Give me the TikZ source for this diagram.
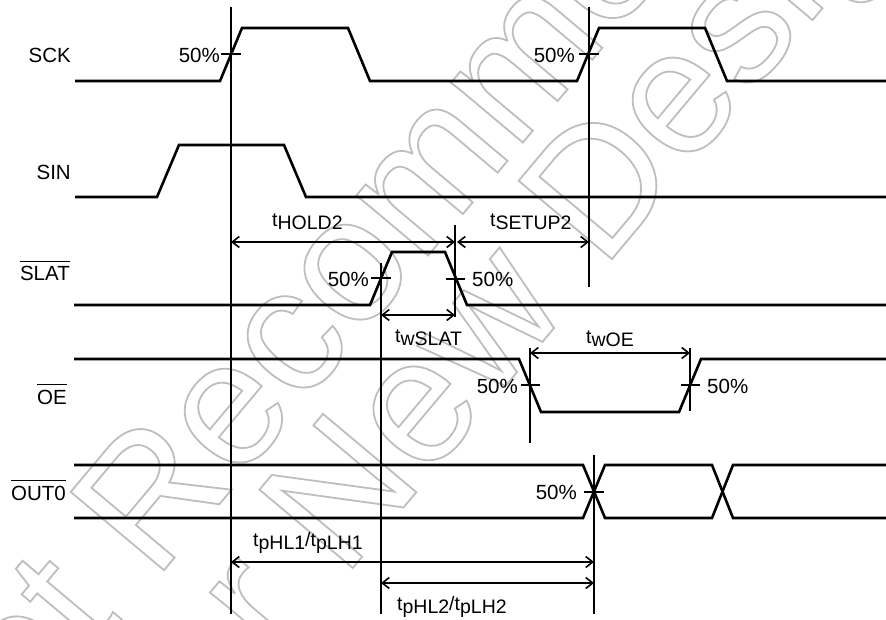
\documentclass[tikz,border=0pt]{standalone}
\usepackage{fontspec}
\setmainfont{Liberation Sans}
\usetikzlibrary{arrows.meta}
\newcommand\ovl[1]{\vbox{\hrule height 1.3pt\kern 4.5pt\hbox{#1}}}
\newcommand\tsub[1]{t\raisebox{-3pt}{#1}}
\newcommand\outlinetext[1]{\special{pdf:literal direct 1 Tr 1.8 w}#1\special{pdf:literal direct 0 Tr}}
\definecolor{wm}{RGB}{190,190,190}
\begin{document}
\begin{tikzpicture}[x=1pt,y=-1pt,
  sig/.style={line width=2.6pt, line join=miter},
  refl/.style={line width=1.2pt},
  dim/.style={line width=2pt, {Straight Barb[length=7pt,width=11pt,line width=1.6pt]}-{Straight Barb[length=7pt,width=11pt,line width=1.6pt]}},
  lbl/.style={inner sep=0pt, font=\fontsize{20.5}{24}\selectfont},
  tl/.style={inner sep=0pt, font=\fontsize{19.5}{22}\selectfont},
  wmark/.style={inner sep=0pt, text=wm, rotate=50, font=\fontsize{177}{177}\selectfont}]
\useasboundingbox (0,0) rectangle (886,620);
\begin{scope}
\clip (0,0) rectangle (886,620);
% watermark
\node[wmark, anchor=base west] (wm1) at (-54,830) {\outlinetext{Not Recommended}};
\node[wmark, anchor=base west] (wm2) at (179,775) {\outlinetext{for New Design}};
\end{scope}
% signal names
\node[lbl, anchor=base east] (nSCK) at (71,63) {SCK};
\node[lbl, anchor=base east] (nSIN) at (71,180) {SIN};
\node[lbl, anchor=base east] (nSLAT) at (70,281) {\ovl{SLAT}};
\node[lbl, anchor=base east] (nOE) at (67,404) {\ovl{OE}};
\node[lbl, anchor=base east] (nOUT) at (66,500) {\ovl{OUT0}};
% waveforms
\draw[sig] (75,81) -- (220,81) -- (242,28) -- (348,28) -- (370,81) -- (577,81) -- (599,28) -- (705,28) -- (727,81) -- (886,81);
\draw[sig] (75,197) -- (157,197) -- (179,145) -- (284,145) -- (306,197) -- (886,197);
\draw[sig] (74,305) -- (370,305) -- (392,252) -- (445,252) -- (467,305) -- (886,305);
\draw[sig] (74,359) -- (519,359) -- (541,412) -- (679,412) -- (701,359) -- (886,359);
\draw[sig] (74,465) -- (583,465) -- (605,518) -- (712,518) -- (733,465) -- (886,465);
\draw[sig] (74,518) -- (583,518) -- (605,465) -- (712,465) -- (733,518) -- (886,518);
% reference lines
\coordinate (v1t) at (231,7);   \coordinate (v1b) at (231,614);
\coordinate (v2t) at (589,7);   \coordinate (v2b) at (589,287);
\coordinate (v3t) at (381,263); \coordinate (v3b) at (381,614);
\coordinate (v4t) at (455,225); \coordinate (v4b) at (455,317);
\coordinate (v5t) at (530,348); \coordinate (v5b) at (530,443);
\coordinate (v6t) at (690,348); \coordinate (v6b) at (690,411);
\coordinate (v7t) at (594,455); \coordinate (v7b) at (594,614);
\draw[refl] (v1t) -- (v1b);
\draw[refl] (v2t) -- (v2b);
\draw[refl] (v3t) -- (v3b);
\draw[refl] (v4t) -- (v4b);
\draw[refl] (v5t) -- (v5b);
\draw[refl] (v6t) -- (v6b);
\draw[refl] (v7t) -- (v7b);
% 50% ticks
\draw[refl] (221,54) -- (241,54);
\draw[refl] (579,54) -- (599,54);
\draw[refl] (371,278) -- (391,278);
\draw[refl] (446,279) -- (465,279);
\draw[refl] (521,385) -- (540,385);
\draw[refl] (681,385) -- (700,385);
\draw[refl] (584,492) -- (604,492);
% 50% labels
\node[lbl, anchor=base east] (p1) at (220,63) {50\%};
\node[lbl, anchor=base east] (p2) at (575,63) {50\%};
\node[lbl, anchor=base east] (p3) at (369,287) {50\%};
\node[lbl, anchor=base west] (p4) at (472,287) {50\%};
\node[lbl, anchor=base east] (p5) at (518,393) {50\%};
\node[lbl, anchor=base west] (p6) at (707,393) {50\%};
\node[lbl, anchor=base east] (p7) at (577,499) {50\%};
% dimension arrows
\coordinate (aHa) at (231,242); \coordinate (aHb) at (455,242);
\coordinate (aSa) at (457,242); \coordinate (aSb) at (589,242);
\coordinate (aWa) at (381,315); \coordinate (aWb) at (455,315);
\coordinate (aOa) at (530,353); \coordinate (aOb) at (690,353);
\coordinate (aP1a) at (231,562); \coordinate (aP1b) at (594,562);
\coordinate (aP2a) at (381,583); \coordinate (aP2b) at (594,583);
\draw[dim] (aHa) -- (aHb);
\draw[dim] (aSa) -- (aSb);
\draw[dim] (aWa) -- (aWb);
\draw[dim] (aOa) -- (aOb);
\draw[dim] (aP1a) -- (aP1b);
\draw[dim] (aP2a) -- (aP2b);
% timing labels
\node[tl, anchor=base west] (tH) at (272,227) {\tsub{HOLD2}};
\node[tl, anchor=base west] (tS) at (490,227) {\tsub{SETUP2}};
\node[tl, anchor=base west] (tW) at (395,342) {\tsub{wSLAT}};
\node[tl, anchor=base west] (tO) at (586,343) {\tsub{wOE}};
\node[tl, anchor=base west] (tP1) at (253,546) {\tsub{pHL1}/\tsub{pLH1}};
\node[tl, anchor=base west] (tP2) at (397,610) {\tsub{pHL2}/\tsub{pLH2}};
\end{tikzpicture}
\end{document}
